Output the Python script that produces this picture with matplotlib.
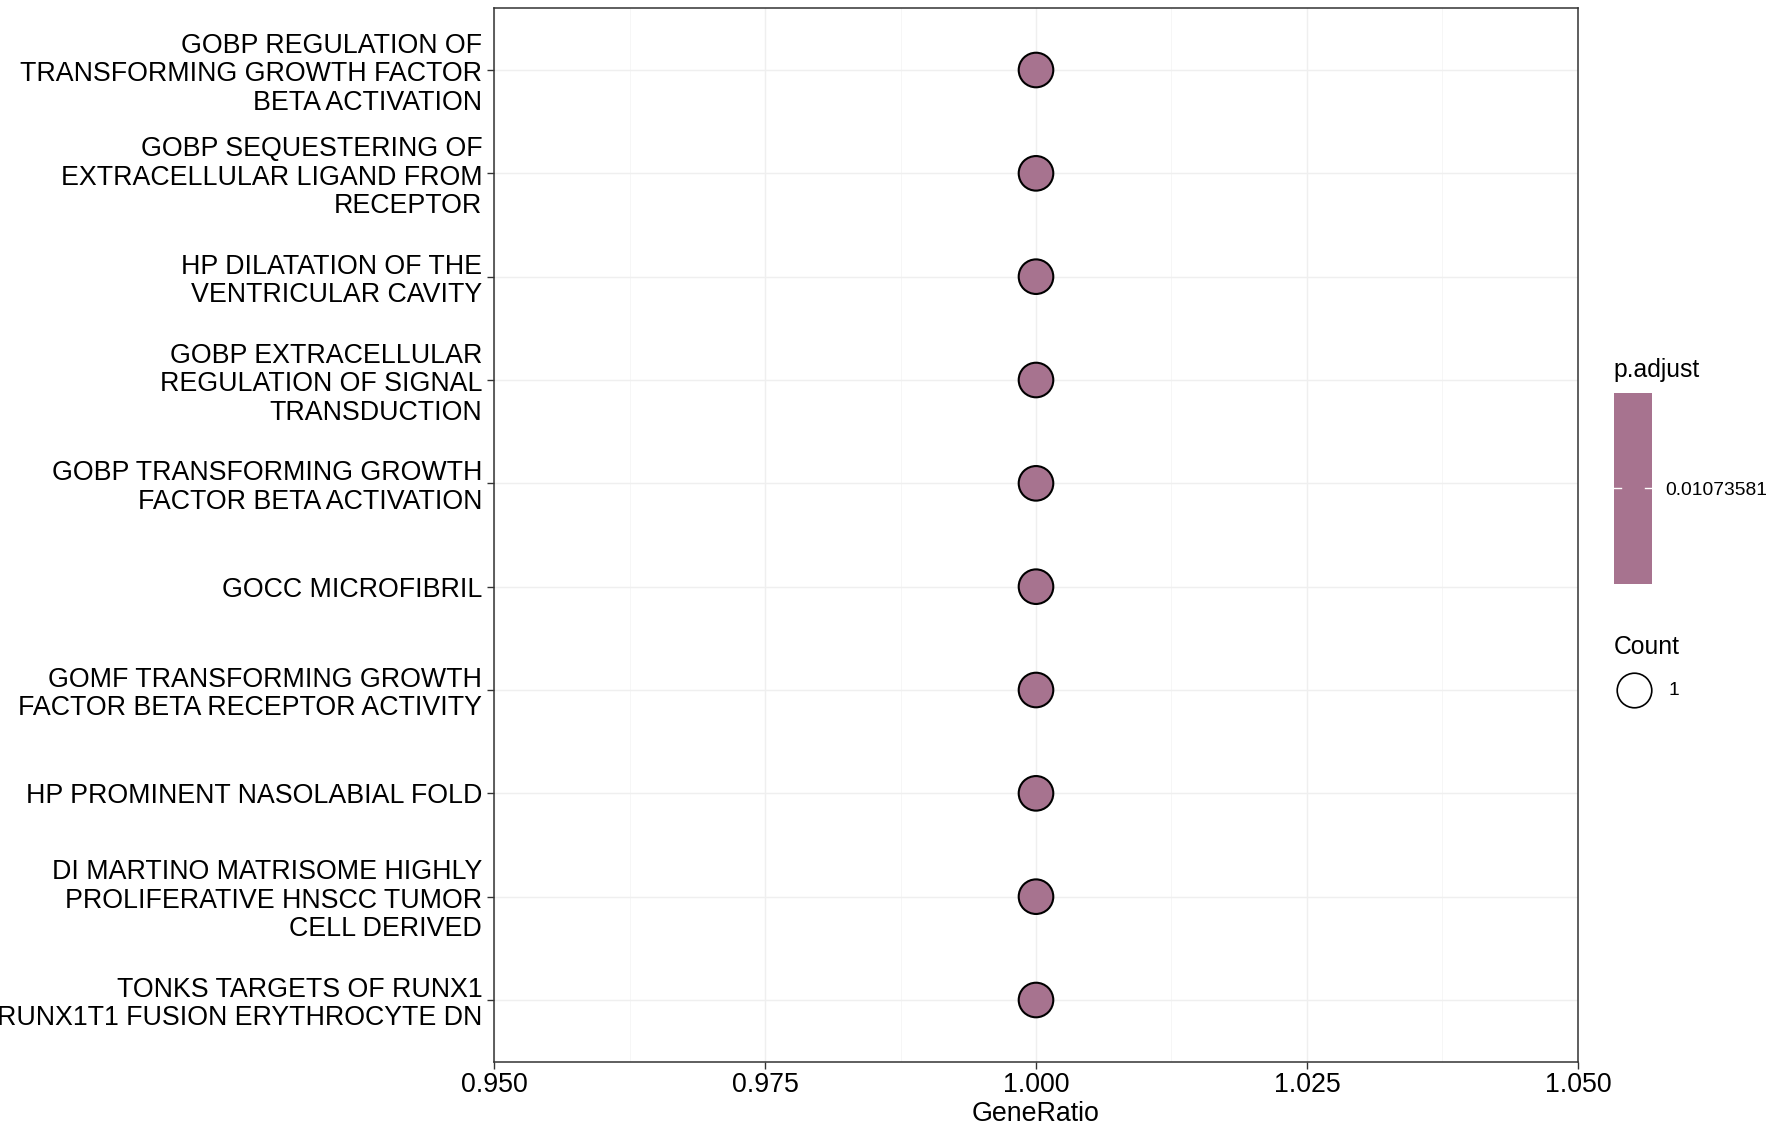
import numpy as np
import matplotlib
matplotlib.use("Agg")
import matplotlib.pyplot as plt

plt.rcParams["font.family"] = ["Liberation Sans", "DejaVu Sans"]

# Enrichment terms, listed top to bottom as in the chart.
terms = [
    "GOBP REGULATION OF\nTRANSFORMING GROWTH FACTOR\nBETA ACTIVATION",
    "GOBP SEQUESTERING OF\nEXTRACELLULAR LIGAND FROM\nRECEPTOR",
    "HP DILATATION OF THE\nVENTRICULAR CAVITY",
    "GOBP EXTRACELLULAR\nREGULATION OF SIGNAL\nTRANSDUCTION",
    "GOBP TRANSFORMING GROWTH\nFACTOR BETA ACTIVATION",
    "GOCC MICROFIBRIL",
    "GOMF TRANSFORMING GROWTH\nFACTOR BETA RECEPTOR ACTIVITY",
    "HP PROMINENT NASOLABIAL FOLD",
    "DI MARTINO MATRISOME HIGHLY\nPROLIFERATIVE HNSCC TUMOR\nCELL DERIVED",
    "TONKS TARGETS OF RUNX1\nRUNX1T1 FUSION ERYTHROCYTE DN",
]
gene_ratio = [1.0, 1.0, 1.0, 1.0, 1.0, 1.0, 1.0, 1.0, 1.0, 1.0]
counts = [1, 1, 1, 1, 1, 1, 1, 1, 1, 1]
p_adjust = [0.01073581] * 10
x_ticks = [0.950, 0.975, 1.000, 1.025, 1.050]

dot_color = "#A7738F"

fig = plt.figure(figsize=(17.72, 11.28), dpi=100)
ax = fig.add_axes([0.2788, 0.0585, 0.6117, 0.9344])

# ggplot puts the first factor level at the bottom
y = np.arange(len(terms), 0, -1)
ax.scatter(gene_ratio, y, s=[620 * c for c in counts], color=dot_color,
           edgecolor="black", linewidth=1.5, zorder=3)

ax.set_xlim(0.95, 1.05)
ax.set_ylim(0.4, len(terms) + 0.6)
ax.set_xticks(x_ticks)
ax.set_xticklabels(["%.3f" % v for v in x_ticks])
ax.set_xticks([0.9625, 0.9875, 1.0125, 1.0375], minor=True)
ax.set_yticks(y)
ax.set_yticklabels(terms)
for lbl in ax.get_yticklabels():
    lbl.set_linespacing(1.12)
ax.tick_params(axis="both", which="major", labelsize=19.3, length=5,
               width=1, color="#333333", labelcolor="black")
ax.tick_params(axis="x", which="major", pad=2)
ax.tick_params(axis="x", which="minor", length=0)
ax.grid(which="major", color="#EFEFEF", linewidth=1)
ax.grid(which="minor", axis="x", color="#F5F5F5", linewidth=0.6)
ax.set_axisbelow(True)
for sp in ax.spines.values():
    sp.set_color("#333333")
    sp.set_linewidth(1.1)
ax.set_xlabel("GeneRatio", fontsize=19.3, labelpad=2)

# p.adjust colour bar (single value, so a flat block)
cax = fig.add_axes([0.9108, 0.4823, 0.0214, 0.1693])
cax.imshow(np.full((10, 1), p_adjust[0]), aspect="auto",
           cmap=matplotlib.colors.ListedColormap([dot_color]),
           extent=[0, 1, 0, 1])
cax.plot([0, 0.18], [0.5, 0.5], color="white", lw=1)
cax.plot([0.82, 1], [0.5, 0.5], color="white", lw=1)
cax.set_xlim(0, 1)
cax.set_ylim(0, 1)
cax.set_xticks([])
cax.set_yticks([])
for sp in cax.spines.values():
    sp.set_visible(False)
fig.text(0.9108, 0.661, "p.adjust", fontsize=17.8, ha="left", va="bottom")
fig.text(0.9396, 0.5655, "%.8f" % p_adjust[0], fontsize=13.9, ha="left", va="center")

# Count legend
fig.text(0.9108, 0.4155, "Count", fontsize=17.8, ha="left", va="bottom")
lax = fig.add_axes([0.905, 0.36, 0.05, 0.05])
lax.set_axis_off()
lax.set_xlim(0, 1)
lax.set_ylim(0, 1)
lax.scatter([0.34], [0.56], s=620 * counts[0], facecolor="white",
            edgecolor="black", linewidth=1.2)
fig.text(0.9418, 0.388, str(counts[0]), fontsize=13.9, ha="left", va="center")

fig.savefig("out.png", dpi=100)
